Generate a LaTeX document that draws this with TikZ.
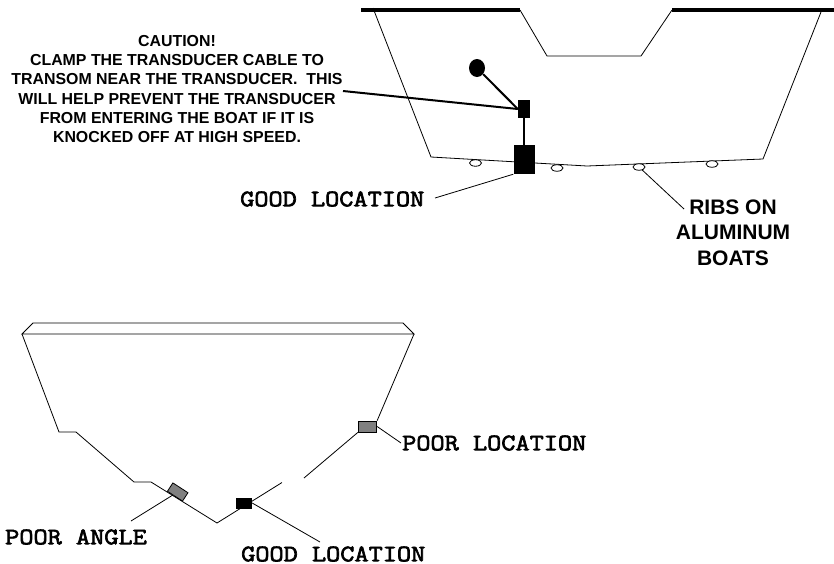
\documentclass[tikz,border=0pt]{standalone}
\usepackage{fontspec}
\setmainfont{Liberation Sans}
\newfontfamily\monob{Latin Modern Mono}[FakeStretch=1.165,FakeBold=2.8]
\tikzset{
 x=1pt,y=-1pt,
 hull/.style={draw=black,line width=0.8pt,line join=miter},
 lead/.style={draw=black,line width=0.8pt},
 heavy/.style={draw=black,line width=2pt},
 solid box/.style={fill=black,draw=none},
 gray box/.style={fill=black!50,draw=black,line width=0.8pt},
 rib/.style={draw=black,fill=white,line width=0.8pt,ellipse,minimum width=12pt,minimum height=6.5pt,inner sep=0pt},
 caution/.style={font=\fontsize{15.9}{19.25}\selectfont\bfseries,align=center,inner sep=0pt},
 ribtext/.style={font=\fontsize{21}{25.5}\selectfont\bfseries,align=center,inner sep=0pt},
 monotext/.style={font=\fontsize{23.6}{26}\selectfont\monob,inner sep=0pt,anchor=west},
}
\usetikzlibrary{shapes.geometric}
\begin{document}
\begin{tikzpicture}
\useasboundingbox (0,0) rectangle (834,563);
% top hull
\draw[hull] (373,8) -- (431,157) -- (587,166) -- (763,159) -- (821,12);
\draw[hull] (520,10) -- (547,56) -- (641,56) -- (672,10);
\draw[line width=4pt] (361,10) -- (520,10);
\draw[line width=4pt] (672,10) -- (834,10);
\foreach \n/\px/\py in {ra/475.5/163, rb/557/168, rc/639/167, rd/712/164}
  \node[rib] (\n) at (\px,\py) {};
\node[solid box,minimum width=12pt,minimum height=18pt,inner sep=0pt] (clamp) at (524,109) {};
\node[solid box,minimum width=21pt,minimum height=29pt,inner sep=0pt] (duc) at (524,159.5) {};
\node[solid box,ellipse,minimum width=16pt,minimum height=18pt,inner sep=0pt] (ball) at (477,68) {};
\draw[heavy] (ball) -- (clamp.west);
\draw[heavy] (clamp) -- (duc);
\coordinate (cstart) at (343,91);
\draw[heavy] (cstart) -- (clamp.west);
\node[caution] (ctext) at (177,89) {CAUTION!\\CLAMP THE TRANSDUCER CABLE TO\\TRANSOM NEAR THE TRANSDUCER.\ \ THIS\\WILL HELP PREVENT THE TRANSDUCER\\FROM ENTERING THE BOAT IF IT IS\\KNOCKED OFF AT HIGH SPEED.};
\node[monotext] (good1) at (240,199) {GOOD LOCATION};
\coordinate (g1s) at (435,198);
\draw[lead] (g1s) -- (duc.south west);
\node[ribtext] (ribs) at (733,232.5) {RIBS ON\\ALUMINUM\\BOATS};
\coordinate (rs) at (684,209);
\draw[lead] (rs) -- (rc);
% bottom hull
\draw[hull] (33,323) -- (22,334) -- (414,334) -- (403,323) -- cycle;
\draw[hull] (22,334) -- (59,432) -- (76,432) -- (134,482) -- (151,482) -- (217,523) -- (282,482.5);
\node[gray box,minimum width=18.5pt,minimum height=11pt,inner sep=0pt] (poorbox) at (367.5,426.5) {};
\node[gray box,minimum width=18pt,minimum height=10pt,inner sep=0pt,rotate=-33] (anglebox) at (177.7,492) {};
\node[solid box,minimum width=16pt,minimum height=11pt,inner sep=0pt] (goodbox) at (244,503) {};
\coordinate (gap) at (304,478);
\draw[hull] (gap) -- (poorbox.south west);
\coordinate (rim) at (414,334);
\draw[hull] (rim) -- (poorbox.north east);
\node[monotext] (poor) at (402,443) {POOR LOCATION};
\node[monotext] (angle) at (5,537) {POOR ANGLE};
\node[monotext] (good2) at (241,554) {GOOD LOCATION};
\coordinate (pl) at (401,443);
\coordinate (al) at (131,521);
\coordinate (gl) at (320,542);
\draw[lead] (pl) -- (poorbox.east);
\draw[lead] (al) -- (anglebox);
\draw[lead] (gl) -- (goodbox.east);
\end{tikzpicture}
\end{document}
